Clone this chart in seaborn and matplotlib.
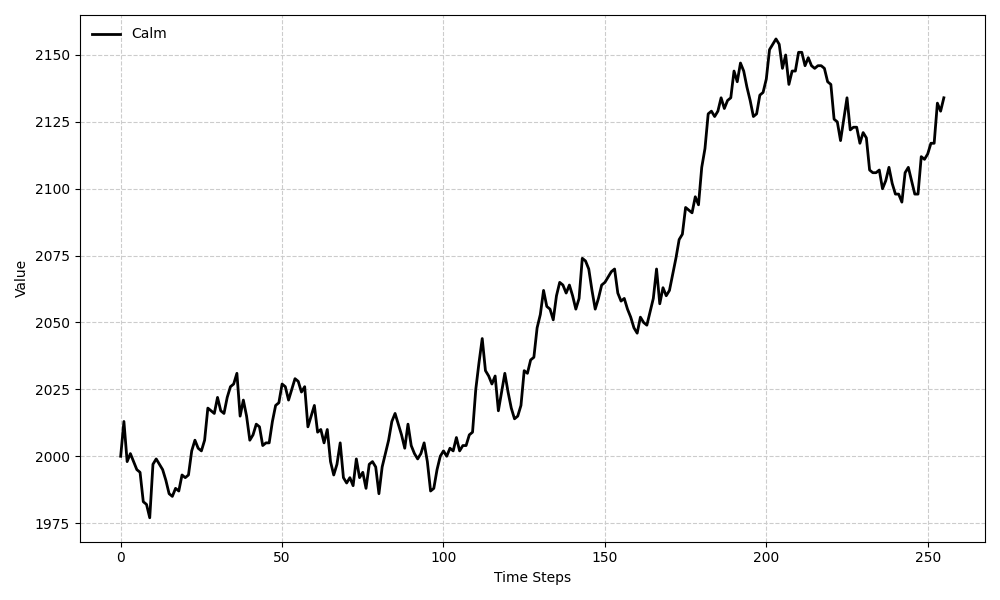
import numpy as np
import pandas as pd
import matplotlib
matplotlib.use('Agg')
import matplotlib.pyplot as plt
import seaborn as sns

series_name = 'Calm'
values = [
    2000, 2013, 1998, 2001, 1998, 1995, 1994, 1983, 1982, 1977,
    1997, 1999, 1997, 1995, 1991, 1986, 1985, 1988, 1987, 1993,
    1992, 1993, 2002, 2006, 2003, 2002, 2006, 2018, 2017, 2016,
    2022, 2017, 2016, 2022, 2026, 2027, 2031, 2015, 2021, 2015,
    2006, 2008, 2012, 2011, 2004, 2005, 2005, 2013, 2019, 2020,
    2027, 2026, 2021, 2025, 2029, 2028, 2024, 2026, 2011, 2015,
    2019, 2009, 2010, 2005, 2010, 1998, 1993, 1997, 2005, 1992,
    1990, 1992, 1989, 1999, 1992, 1994, 1988, 1997, 1998, 1996,
    1986, 1996, 2001, 2006, 2013, 2016, 2012, 2008, 2003, 2012,
    2004, 2001, 1999, 2001, 2005, 1998, 1987, 1988, 1995, 2000,
    2002, 2000, 2003, 2002, 2007, 2002, 2004, 2004, 2008, 2009,
    2025, 2035, 2044, 2032, 2030, 2027, 2030, 2017, 2024, 2031,
    2024, 2018, 2014, 2015, 2019, 2032, 2031, 2036, 2037, 2048,
    2053, 2062, 2056, 2055, 2051, 2060, 2065, 2064, 2061, 2064,
    2060, 2055, 2059, 2074, 2073, 2070, 2062, 2055, 2059, 2064,
    2065, 2067, 2069, 2070, 2061, 2058, 2059, 2055, 2052, 2048,
    2046, 2052, 2050, 2049, 2054, 2059, 2070, 2057, 2063, 2060,
    2062, 2068, 2074, 2081, 2083, 2093, 2092, 2091, 2097, 2094,
    2108, 2115, 2128, 2129, 2127, 2129, 2134, 2130, 2133, 2134,
    2144, 2140, 2147, 2144, 2138, 2133, 2127, 2128, 2135, 2136,
    2141, 2152, 2154, 2156, 2154, 2145, 2150, 2139, 2144, 2144,
    2151, 2151, 2146, 2149, 2146, 2145, 2146, 2146, 2145, 2140,
    2139, 2126, 2125, 2118, 2126, 2134, 2122, 2123, 2123, 2117,
    2121, 2119, 2107, 2106, 2106, 2107, 2100, 2103, 2108, 2102,
    2098, 2098, 2095, 2106, 2108, 2103, 2098, 2098, 2112, 2111,
    2113, 2117, 2117, 2132, 2129, 2134,
]
steps = list(range(len(values)))

df = pd.DataFrame({'Time Steps': steps, 'Value': values})

fig, ax = plt.subplots(figsize=(10, 6), dpi=100)
sns.lineplot(data=df, x='Time Steps', y='Value', color='black', linewidth=2,
             label=series_name, ax=ax)
ax.grid(True, linestyle='--', color='#cccccc', linewidth=0.8)
ax.legend(loc='upper left', frameon=False)
ax.set_xlabel('Time Steps')
ax.set_ylabel('Value')
plt.tight_layout()
plt.savefig('out.png')
